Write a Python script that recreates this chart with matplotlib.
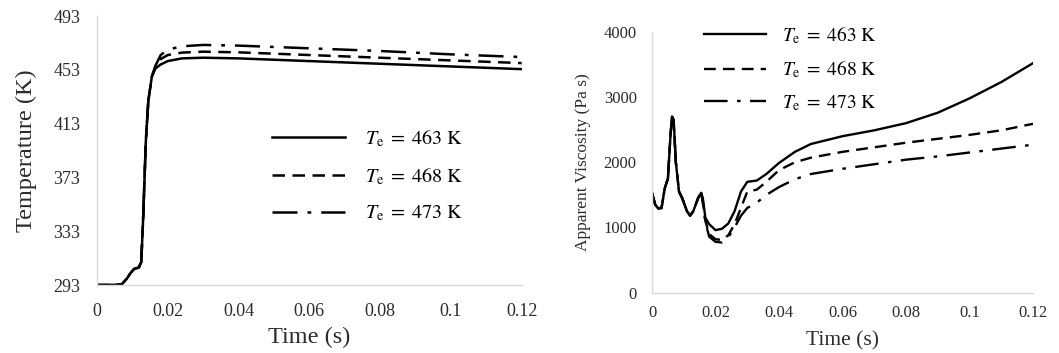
import matplotlib.pyplot as plt

plt.rcParams['font.family'] = 'Liberation Serif'
plt.rcParams['mathtext.fontset'] = 'stix'

labels = [r'$T_\mathrm{e}\;=\;463\ \mathrm{K}$', r'$T_\mathrm{e}\;=\;468\ \mathrm{K}$',
          r'$T_\mathrm{e}\;=\;473\ \mathrm{K}$']

# temperature history
t_temp = [0, 0.005, 0.007, 0.0085, 0.0095, 0.0105, 0.0118, 0.0125, 0.013, 0.0138,
          0.0145, 0.0155, 0.0165, 0.018, 0.02, 0.024, 0.03, 0.04, 0.06, 0.08, 0.1, 0.12]
temp_463 = [293, 293, 293.5, 298, 302, 305, 306, 310, 340, 400,
            430, 448, 454, 457, 459.5, 461.5, 462, 461.5, 459.5, 457.5, 455.5, 453.5]
temp_468 = [293, 293, 293.5, 298, 302, 305, 306, 310, 340, 400,
            430, 448, 455, 461, 464, 465.8, 466.5, 466, 464, 462, 460, 458]
temp_473 = [293, 293, 293.5, 298, 302, 305, 306, 310, 340, 400,
            430, 448, 456, 464, 468, 470.5, 471.5, 471, 469, 467, 464.5, 462.5]

# apparent viscosity
t_visc = [0, 0.001, 0.002, 0.003, 0.004, 0.005, 0.0058, 0.0063, 0.0068, 0.0075,
          0.0085, 0.0095, 0.011, 0.012, 0.013, 0.0145, 0.0155, 0.016, 0.0168, 0.018,
          0.02, 0.022, 0.024, 0.026, 0.028, 0.03, 0.033, 0.036, 0.04, 0.045,
          0.05, 0.06, 0.07, 0.08, 0.09, 0.1, 0.11, 0.12]
visc_463 = [1530, 1350, 1290, 1300, 1600, 1750, 2400, 2700, 2650, 2000,
            1550, 1450, 1250, 1180, 1250, 1450, 1530, 1450, 1150, 1050,
            960, 980, 1060, 1250, 1550, 1700, 1720, 1820, 1990, 2160,
            2280, 2400, 2490, 2600, 2760, 2980, 3230, 3520]
visc_468 = [1530, 1350, 1290, 1300, 1600, 1750, 2400, 2700, 2650, 2000,
            1550, 1450, 1250, 1180, 1250, 1450, 1530, 1400, 1100, 900,
            820, 810, 880, 1050, 1300, 1550, 1580, 1700, 1880, 2000,
            2070, 2160, 2230, 2300, 2360, 2420, 2490, 2590]
visc_473 = [1530, 1350, 1290, 1300, 1600, 1750, 2400, 2700, 2650, 2000,
            1550, 1450, 1250, 1180, 1250, 1450, 1530, 1380, 1080, 860,
            780, 770, 850, 1000, 1180, 1300, 1380, 1500, 1620, 1740,
            1820, 1900, 1970, 2040, 2090, 2150, 2210, 2270]

styles = [dict(ls='-'), dict(ls=(0, (5, 3))), dict(ls=(0, (10, 4, 1.5, 4)))]
text_col = '#2b2b2b'
spine_col = '#d9d9d9'
xt = [0, 0.02, 0.04, 0.06, 0.08, 0.1, 0.12]
xtl = ['0', '0.02', '0.04', '0.06', '0.08', '0.1', '0.12']

fig = plt.figure(figsize=(10.59, 3.53), dpi=100)
ax1 = fig.add_axes([0.0916, 0.1926, 0.401, 0.762])
ax2 = fig.add_axes([0.6157, 0.1708, 0.3598, 0.739])

for y, lab, st in zip([temp_463, temp_468, temp_473], labels, styles):
    ax1.plot(t_temp, y, color='black', lw=1.8, label=lab, **st)
for y, lab, st in zip([visc_463, visc_468, visc_473], labels, styles):
    ax2.plot(t_visc, y, color='black', lw=1.7, label=lab, **st)

ax1.set_xlim(0, 0.12)
ax1.set_ylim(293, 493)
ax1.set_yticks([293, 333, 373, 413, 453, 493])
ax1.set_xticks(xt)
ax1.set_xticklabels(xtl)
ax1.tick_params(length=0, labelsize=13, colors=text_col)
ax1.tick_params(axis='y', pad=12)
ax1.tick_params(axis='x', pad=13)
ax1.set_xlabel('Time (s)', fontsize=17.5, color=text_col, labelpad=5)
ax1.set_ylabel('Temperature (K)', fontsize=17.5, color=text_col, labelpad=12)
ax1.legend(frameon=False, fontsize=14.5, handlelength=3.6, handletextpad=1.0,
           labelspacing=0.85, loc='center left', bbox_to_anchor=(0.37, 0.405))

ax2.set_xlim(0, 0.12)
ax2.set_ylim(0, 4000)
ax2.set_yticks([0, 1000, 2000, 3000, 4000])
ax2.set_xticks(xt)
ax2.set_xticklabels(xtl)
ax2.tick_params(length=0, labelsize=12, colors=text_col)
ax2.tick_params(axis='y', pad=11)
ax2.tick_params(axis='x', pad=9)
ax2.set_xlabel('Time (s)', fontsize=15.5, color=text_col, labelpad=7)
ax2.set_ylabel('Apparent Viscosity (Pa s)', fontsize=12.5, color=text_col, labelpad=9)
ax2.legend(frameon=False, fontsize=14, handlelength=3.2, handletextpad=0.8,
           labelspacing=0.65, loc='center left', bbox_to_anchor=(0.09, 0.86))

for ax in (ax1, ax2):
    for s in ('top', 'right'):
        ax.spines[s].set_visible(False)
    for s in ('left', 'bottom'):
        ax.spines[s].set_color(spine_col)
        ax.spines[s].set_linewidth(1.0)

fig.savefig('out.png', dpi=100)
